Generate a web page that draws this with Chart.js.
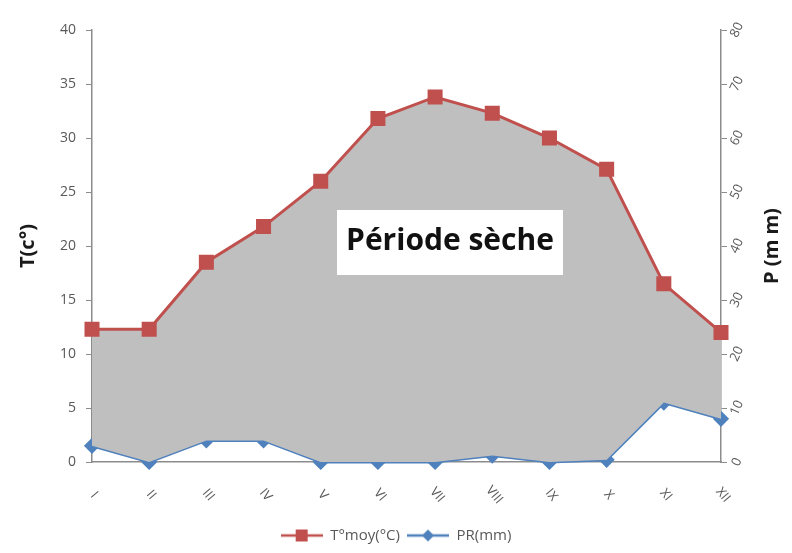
<!DOCTYPE html>
<html>
<head>
<meta charset="utf-8">
<script src="https://cdn.jsdelivr.net/npm/chart.js@4.4.0/dist/chart.umd.min.js"></script>
<style>
  html, body { margin: 0; padding: 0; background: #fff; }
  #box { width: 792px; height: 553px; }
</style>
</head>
<body>
<div id="box"><canvas id="myChart"></canvas></div>
<script>
let months = ['I', 'II', 'III', 'IV', 'V', 'VI', 'VII', 'VIII', 'IX', 'X', 'XI', 'XII'];
let tMoy = [12.3, 12.3, 18.5, 21.8, 26, 31.8, 33.8, 32.3, 30, 27.1, 16.5, 12];
let prMm = [3, 0, 4, 4, 0, 0, 0, 1.2, 0, 0.4, 11, 8];
let tempTicks = [0, 5, 10, 15, 20, 25, 30, 35, 40];
let rainTicks = [0, 10, 20, 30, 40, 50, 60, 70, 80];

let red = '#c0504d';
let blue = '#4f81bd';
let grey = '#595959';
let axisColor = '#8c8c8c';

// little line + marker pictures for the legend, like Excel does
function legendIcon(color, style) {
    let c = document.createElement('canvas');
    c.width = 42; c.height = 14;
    let g = c.getContext('2d');
    g.strokeStyle = color; g.lineWidth = 2.5;
    g.beginPath(); g.moveTo(0, 7); g.lineTo(42, 7); g.stroke();
    g.fillStyle = color;
    if (style === 'rect') {
        g.fillRect(15, 1, 12, 12);
    } else {
        g.beginPath(); g.moveTo(21, 1); g.lineTo(27, 7); g.lineTo(21, 13); g.lineTo(15, 7); g.closePath(); g.fill();
    }
    return c;
}

// x labels slanted the other way, right axis labels + title, and the text box
let extras = {
    id: 'extras',
    afterDraw(chart) {
        let ctx = chart.ctx;
        let xs = chart.scales.x;
        let y2 = chart.scales.y2;
        ctx.save();
        ctx.fillStyle = grey;
        ctx.font = '13px "Open Sans"';
        ctx.textAlign = 'center';
        ctx.textBaseline = 'middle';
        months.forEach((m, i) => {
            let px = xs.getPixelForTick(i);
            ctx.save();
            ctx.translate(px + 2, xs.top + 33);
            ctx.rotate(50 * Math.PI / 180);
            ctx.fillText(m, 0, 0);
            ctx.restore();
        });
        rainTicks.forEach(v => {
            let py = y2.getPixelForValue(v);
            ctx.save();
            ctx.translate(y2.left + 16, py);
            ctx.rotate(-65 * Math.PI / 180);
            ctx.fillText(String(v), 0, 0);
            ctx.restore();
        });
        ctx.save();
        ctx.fillStyle = '#1a1a1a';
        ctx.font = 'bold 20px "Open Sans"';
        ctx.translate(772, (y2.top + y2.bottom) / 2);
        ctx.rotate(-Math.PI / 2);
        ctx.fillText('P (m m)', 0, 0);
        ctx.restore();

        ctx.fillStyle = '#ffffff';
        ctx.fillRect(337, 210, 226, 65);
        ctx.fillStyle = '#111111';
        ctx.font = 'bold 30px "Open Sans"';
        ctx.fillText('Période sèche', 450, 241);
        ctx.restore();
    }
};

let myChart = document.getElementById('myChart').getContext('2d');

let chart1 = new Chart(myChart, {
    type: 'line',
    data: {
        labels: months,
        datasets: [
            {
                label: 'T°moy(°C)',
                data: tMoy,
                yAxisID: 'y',
                borderColor: red,
                borderWidth: 3,
                pointStyle: 'rect',
                pointRadius: 8.5,
                pointBackgroundColor: red,
                pointBorderColor: red,
                backgroundColor: '#bfbfbf',
                fill: { target: '+1', above: '#bfbfbf', below: '#bfbfbf' },
                clip: false,
                tension: 0
            },
            {
                label: 'PR(mm)',
                data: prMm,
                yAxisID: 'y2',
                borderColor: blue,
                borderWidth: 3,
                pointStyle: 'rectRot',
                pointRadius: 6,
                pointBackgroundColor: blue,
                pointBorderColor: blue,
                backgroundColor: blue,
                fill: false,
                clip: false,
                tension: 0
            }
        ]
    },
    options: {
        responsive: true,
        maintainAspectRatio: false,
        animation: false,
        layout: { padding: { top: 30, left: 0, right: 0, bottom: 0 } },
        scales: {
            x: {
                offset: false,
                grid: { display: false },
                border: { color: axisColor, width: 1.5 },
                ticks: { display: false },
                afterFit: s => { s.height = 59; }
            },
            y: {
                position: 'left',
                min: 0,
                max: 40,
                afterBuildTicks: s => { s.ticks = tempTicks.map(v => ({ value: v })); },
                grid: { drawOnChartArea: false, tickLength: 6, color: axisColor },
                border: { color: axisColor, width: 1.5 },
                ticks: { color: grey, font: { size: 14, family: 'Open Sans' }, padding: 10 },
                title: {
                    display: true,
                    text: 'T(c°)',
                    color: '#1a1a1a',
                    font: { size: 20, weight: 'bold', family: 'Open Sans' },
                    padding: { top: 16, bottom: 0 }
                },
                afterFit: s => { s.width = 92; }
            },
            y2: {
                position: 'right',
                min: 0,
                max: 80,
                afterBuildTicks: s => { s.ticks = rainTicks.map(v => ({ value: v })); },
                grid: { drawOnChartArea: false, tickLength: 6, color: axisColor },
                border: { color: axisColor, width: 1.5 },
                ticks: { display: false },
                afterFit: s => { s.width = 71; }
            }
        },
        plugins: {
            legend: {
                position: 'bottom',
                labels: {
                    color: grey,
                    font: { size: 15, family: 'Open Sans' },
                    usePointStyle: true,
                    pointStyleWidth: 42,
                    boxHeight: 14,
                    padding: 7,
                    generateLabels: c => {
                        let items = Chart.defaults.plugins.legend.labels.generateLabels(c);
                        items[0].pointStyle = legendIcon(red, 'rect');
                        items[1].pointStyle = legendIcon(blue, 'diamond');
                        return items;
                    }
                }
            },
            tooltip: { enabled: false }
        }
    },
    plugins: [extras]
});
</script>
</body>
</html>
